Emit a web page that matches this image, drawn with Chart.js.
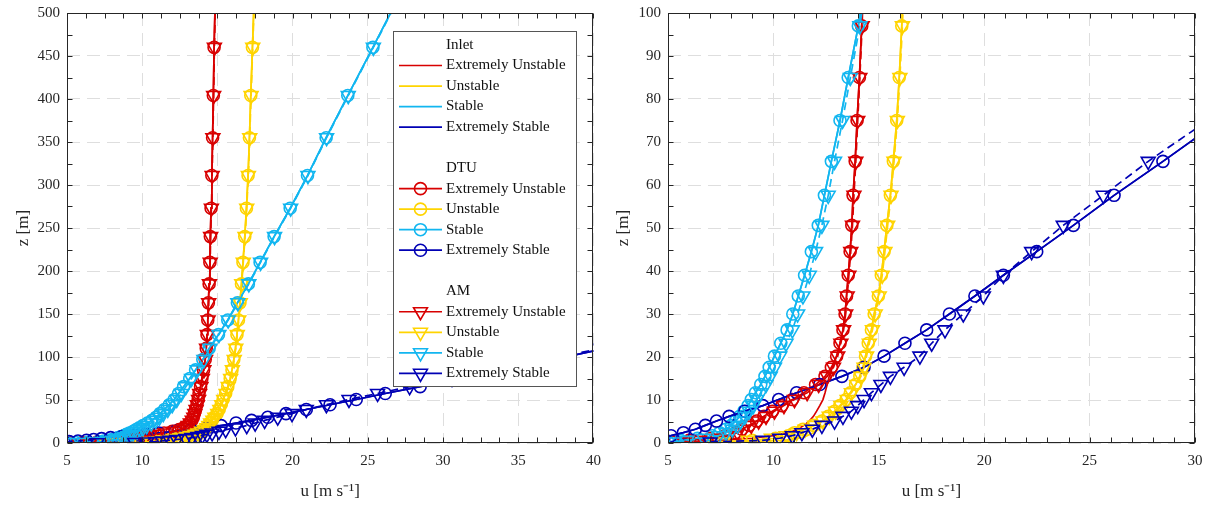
<!DOCTYPE html>
<html><head><meta charset="utf-8">
<script src="https://cdn.jsdelivr.net/npm/chart.js@4.4.1/dist/chart.umd.min.js"></script>
<style>
html,body{margin:0;padding:0;background:#fff;overflow:hidden}
#wrap{position:relative;width:1207px;height:506px}
canvas{position:absolute;top:0}
</style></head><body>
<div id="wrap">
<canvas id="left" width="603" height="506" style="left:0"></canvas>
<canvas id="right" width="607" height="506" style="left:600px"></canvas>
</div>
<script>
// ---- data ----
const SOURCES = ['Inlet', 'DTU', 'AM'];
const STABILITY = ['Extremely Unstable', 'Unstable', 'Stable', 'Extremely Stable'];
// heights z [m]
const Z = [0.25, 0.6, 1.1, 1.7, 2.4, 3.2, 4.1, 5.1, 6.2, 7.4, 8.7, 10.1, 11.7, 13.6, 15.5, 17.6, 20.2, 23.2, 26.3, 30.0,
           34.2, 39.0, 44.5, 50.6, 57.6, 65.5, 75, 85, 97, 110, 126, 143, 163, 185, 210, 240, 273, 311, 355, 404, 460, 520];
// wind speed u [m/s]
const inletEU = [5.8, 7.5, 9.0, 10.0, 10.7, 11.15, 11.45, 11.7, 11.9, 12.05, 12.2, 12.35, 12.45, 12.55, 12.65, 12.8, 13.0, 13.16, 13.3, 13.4,
                 13.47, 13.55, 13.64, 13.72, 13.78, 13.88, 13.97, 14.08, 14.19, 14.26, 14.31, 14.36, 14.4, 14.45, 14.5, 14.53, 14.58, 14.63, 14.68, 14.73, 14.78, 14.86];
const inletU  = [8.5, 10.5, 11.2, 11.6, 11.9, 12.15, 12.4, 12.6, 12.8, 13.0, 13.2, 13.45, 13.65, 13.9, 14.1, 14.25, 14.37, 14.5, 14.65, 14.78,
                 14.98, 15.12, 15.25, 15.38, 15.55, 15.69, 15.85, 15.97, 16.09, 16.2, 16.3, 16.4, 16.5, 16.6, 16.7, 16.82, 16.93, 17.04, 17.13, 17.22, 17.33, 17.45];
const inletS  = [5.6, 6.1, 6.8, 7.3, 7.55, 7.8, 8.0, 8.2, 8.4, 8.6, 8.8, 8.95, 9.15, 9.4, 9.6, 9.8, 10.05, 10.35, 10.65, 10.92,
                 11.18, 11.48, 11.8, 12.13, 12.42, 12.75, 13.16, 13.55, 14.03, 14.45, 15.07, 15.69, 16.33, 17.06, 17.84, 18.77, 19.84, 20.99, 22.23, 23.67, 25.34, 27.1];
const inletES = [4.5, 4.6, 4.8, 5.15, 5.73, 6.3, 6.77, 7.3, 7.9, 8.65, 9.5, 10.25, 11.1, 12.2, 13.25, 14.3, 15.25, 16.24, 17.27, 18.35,
                 19.56, 20.91, 22.49, 24.23, 26.16, 28.48, 31.2, 34.0, 37.3, 40.8, 45.0];
const dtuEU = [5.2, 6.0, 7.0, 7.7, 8.2, 8.5, 8.85, 9.2, 9.55, 9.95, 10.4, 10.9, 11.45, 12.0, 12.45, 12.75, 13.0, 13.16, 13.3, 13.4,
               13.47, 13.55, 13.64, 13.72, 13.78, 13.88, 13.97, 14.08, 14.19, 14.26, 14.31, 14.36, 14.4, 14.45, 14.5, 14.53, 14.58, 14.63, 14.68, 14.73, 14.78, 14.86];
const dtuU  = [7.2, 9.0, 10.1, 10.7, 11.0, 11.4, 11.9, 12.3, 12.6, 12.9, 13.15, 13.45, 13.65, 13.9, 14.1, 14.25, 14.37, 14.5, 14.65, 14.78,
               14.98, 15.12, 15.25, 15.38, 15.55, 15.69, 15.85, 15.97, 16.09, 16.2, 16.3, 16.4, 16.5, 16.6, 16.7, 16.82, 16.93, 17.04, 17.13, 17.22, 17.33, 17.45];
const dtuS  = [5.0, 5.6, 6.4, 7.1, 7.45, 7.75, 8.0, 8.2, 8.4, 8.6, 8.8, 8.95, 9.15, 9.4, 9.6, 9.8, 10.05, 10.35, 10.65, 10.92,
               11.18, 11.48, 11.8, 12.13, 12.42, 12.75, 13.16, 13.55, 14.03, 14.45, 15.07, 15.69, 16.33, 17.06, 17.84, 18.77, 19.84, 20.99, 22.23, 23.67, 25.34, 27.1];
const dtuES = [4.5, 4.6, 4.8, 5.15, 5.73, 6.3, 6.77, 7.3, 7.9, 8.65, 9.5, 10.25, 11.1, 12.2, 13.25, 14.3, 15.25, 16.24, 17.27, 18.35,
               19.56, 20.91, 22.49, 24.23, 26.16, 28.48, 31.2, 34.0, 37.3, 40.8, 45.0];
const amEU = [5.8, 6.5, 7.3, 7.9, 8.3, 8.6, 8.95, 9.3, 9.65, 10.05, 10.5, 11.0, 11.6, 12.15, 12.55, 12.85, 13.05, 13.2, 13.33, 13.43,
              13.5, 13.58, 13.67, 13.75, 13.82, 13.91, 14.0, 14.1, 14.21, 14.28, 14.33, 14.38, 14.42, 14.47, 14.52, 14.55, 14.6, 14.65, 14.7, 14.75, 14.8, 14.88];
const amU  = [7.6, 8.8, 9.9, 10.6, 11.1, 11.5, 11.95, 12.35, 12.65, 12.95, 13.2, 13.5, 13.7, 13.95, 14.15, 14.3, 14.42, 14.55, 14.7, 14.83,
              15.02, 15.16, 15.29, 15.42, 15.58, 15.72, 15.88, 16.0, 16.12, 16.22, 16.32, 16.42, 16.52, 16.62, 16.72, 16.84, 16.95, 17.06, 17.15, 17.24, 17.35, 17.47];
const amS  = [5.3, 5.9, 6.7, 7.4, 7.75, 8.05, 8.3, 8.45, 8.65, 8.85, 9.05, 9.2, 9.4, 9.65, 9.85, 10.05, 10.3, 10.6, 10.9, 11.15,
              11.4, 11.7, 12.0, 12.3, 12.6, 12.9, 13.28, 13.65, 14.1, 14.5, 15.1, 15.72, 16.36, 17.09, 17.87, 18.8, 19.87, 21.02, 22.26, 23.7, 25.37, 27.13];
const amES = [7.0, 9.5, 10.3, 10.9, 11.35, 11.85, 12.3, 12.9, 13.3, 13.7, 14.0, 14.3, 14.65, 15.1, 15.55, 16.2, 16.95, 17.51, 18.14, 19.01,
              19.96, 20.91, 22.25, 23.75, 25.65, 27.78, 30.6, 33.5, 36.9, 40.5, 44.8];

const SERIES = [inletEU, inletU, inletS, inletES, dtuEU, dtuU, dtuS, dtuES, amEU, amU, amS, amES];
const COLORS = ['#d80000', '#ffd400', '#12b6f0', '#0000b4'];

const FONT = '"Liberation Serif", "Times New Roman", serif';
const GRID = '#dedede';
const INK = '#262626';

function isMajor(v, m) { const q = v / m; return Math.abs(q - Math.round(q)) < 1e-6; }

function buildDatasets() {
  return SERIES.map((arr, k) => {
    const src = Math.floor(k / 4), st = k % 4;
    const pts = arr.map((u, i) => ({ x: u, y: Z[i] }));
    const ds = {
      label: SOURCES[src] + ' ' + STABILITY[st],
      data: pts, showLine: true, tension: 0,
      borderColor: COLORS[st], borderWidth: 1.7,
      pointBorderColor: COLORS[st], pointBackgroundColor: 'rgba(0,0,0,0)',
      pointBorderWidth: 1.6, order: 12 - k
    };
    if (src === 0) { ds.pointRadius = 0; ds.pointStyle = 'line'; }
    else if (src === 1) { ds.pointRadius = 6; ds.pointStyle = 'circle'; }
    else { ds.pointRadius = 8; ds.pointStyle = 'triangle'; ds.pointRotation = 180; ds.borderDash = [8, 5]; }
    return ds;
  });
}

const framePlugin = {
  id: 'frame',
  afterDatasetsDraw(chart) {
    const ctx = chart.ctx, a = chart.chartArea;
    const L = Math.round(a.left) + 0.5, R = Math.round(a.right) - 0.5, T = Math.round(a.top) + 0.5, B = Math.round(a.bottom) - 0.5;
    ctx.save();
    ctx.strokeStyle = INK; ctx.lineWidth = 1; ctx.setLineDash([]);
    ctx.strokeRect(L, T, R - L, B - T);
    const tl = 5;
    ctx.beginPath();
    chart.scales.x.ticks.forEach(t => {
      const p = Math.round(chart.scales.x.getPixelForValue(t.value)) + 0.5;
      ctx.moveTo(p, B); ctx.lineTo(p, B - tl);
      ctx.moveTo(p, T); ctx.lineTo(p, T + tl);
    });
    chart.scales.y.ticks.forEach(t => {
      const p = Math.round(chart.scales.y.getPixelForValue(t.value)) + 0.5;
      ctx.moveTo(L, p); ctx.lineTo(L + tl, p);
      ctx.moveTo(R, p); ctx.lineTo(R - tl, p);
    });
    ctx.stroke();
    ctx.restore();
  }
};

function legendMarker(ctx, style, r, x, y) {
  if (!r) return;
  ctx.beginPath();
  if (style === 'circle') ctx.arc(x, y, r, 0, Math.PI * 2);
  else {
    for (let k = 0; k < 3; k++) {
      const ang = Math.PI + k * 2 * Math.PI / 3;
      const px = x + Math.sin(ang) * r, py = y - Math.cos(ang) * r;
      if (k) ctx.lineTo(px, py); else ctx.moveTo(px, py);
    }
    ctx.closePath();
  }
  ctx.stroke();
}

const legendPlugin = {
  id: 'boxLegend',
  afterDraw(chart) {
    const ctx = chart.ctx;
    ctx.save();
    const bx = 393.5, by = 31.5, bw = 183, bh = 355;
    ctx.fillStyle = '#fff'; ctx.fillRect(bx, by, bw, bh);
    ctx.strokeStyle = '#555'; ctx.lineWidth = 1; ctx.strokeRect(bx, by, bw, bh);
    ctx.font = '15px ' + FONT; ctx.textBaseline = 'middle'; ctx.textAlign = 'left';
    let y = 45; const dy = 20.52;
    SOURCES.forEach((src, si) => {
      ctx.fillStyle = '#111'; ctx.fillText(src, 446, y); y += dy;
      STABILITY.forEach((st, ti) => {
        const ds = chart.data.datasets[si * 4 + ti];
        ctx.strokeStyle = ds.borderColor; ctx.lineWidth = 1.7; ctx.setLineDash([]);
        ctx.beginPath(); ctx.moveTo(399, y); ctx.lineTo(442, y); ctx.stroke();
        ctx.lineWidth = 1.6;
        legendMarker(ctx, ds.pointStyle, ds.pointRadius, 420.5, y);
        ctx.fillStyle = '#111'; ctx.fillText(st, 446, y);
        y += dy;
      });
      y += dy;
    });
    ctx.restore();
  }
};

function makeChart(id, cfg) {
  return new Chart(document.getElementById(id), {
    type: 'scatter',
    data: { datasets: buildDatasets() },
    options: {
      responsive: false, animation: false, devicePixelRatio: 1, events: [],
      layout: { padding: { top: 13, right: cfg.padRight, left: 0, bottom: 0 } },
      plugins: { legend: { display: false }, tooltip: { enabled: false } },
      scales: {
        x: {
          type: 'linear', min: cfg.xMin, max: cfg.xMax,
          afterFit: s => { s.height = 63; s.paddingLeft = 0; s.paddingRight = 0; },
          ticks: { stepSize: cfg.xMinor, autoSkip: false, maxRotation: 0, padding: 9, color: INK,
                   font: { family: FONT, size: 15 }, callback: v => isMajor(v, cfg.xMajor) ? String(v) : '' },
          grid: { color: c => (c.tick && isMajor(c.tick.value, cfg.xMajor)) ? GRID : 'rgba(0,0,0,0)', lineWidth: 1, drawTicks: false },
          border: { display: false, dash: [13, 7] },
          title: { display: true, text: 'u [m s\u207B\u00B9]', color: INK, font: { family: FONT, size: 17 }, padding: { top: 0, bottom: 4 } }
        },
        y: {
          type: 'linear', min: cfg.yMin, max: cfg.yMax,
          afterFit: s => { s.width = cfg.yWidth; s.paddingTop = 0; s.paddingBottom = 0; },
          ticks: { stepSize: cfg.yMinor, autoSkip: false, padding: 7, color: INK,
                   font: { family: FONT, size: 15 }, callback: v => isMajor(v, cfg.yMajor) ? String(v) : '' },
          grid: { color: c => (c.tick && isMajor(c.tick.value, cfg.yMajor)) ? GRID : 'rgba(0,0,0,0)', lineWidth: 1, drawTicks: false },
          border: { display: false, dash: [13, 7] },
          title: { display: true, text: 'z [m]', color: INK, font: { family: FONT, size: 17 }, padding: { top: 13, bottom: 0 } }
        }
      }
    },
    plugins: cfg.legend ? [framePlugin, legendPlugin] : [framePlugin]
  });
}

makeChart('left',  { xMin: 5, xMax: 40, xMinor: 1.25, xMajor: 5, yMin: 0, yMax: 500, yMinor: 25, yMajor: 50, yWidth: 67, padRight: 0, legend: true });
makeChart('right', { xMin: 5, xMax: 30, xMinor: 1, xMajor: 5, yMin: 0, yMax: 100, yMinor: 5, yMajor: 10, yWidth: 68, padRight: 12, legend: false });
</script>
</body></html>
